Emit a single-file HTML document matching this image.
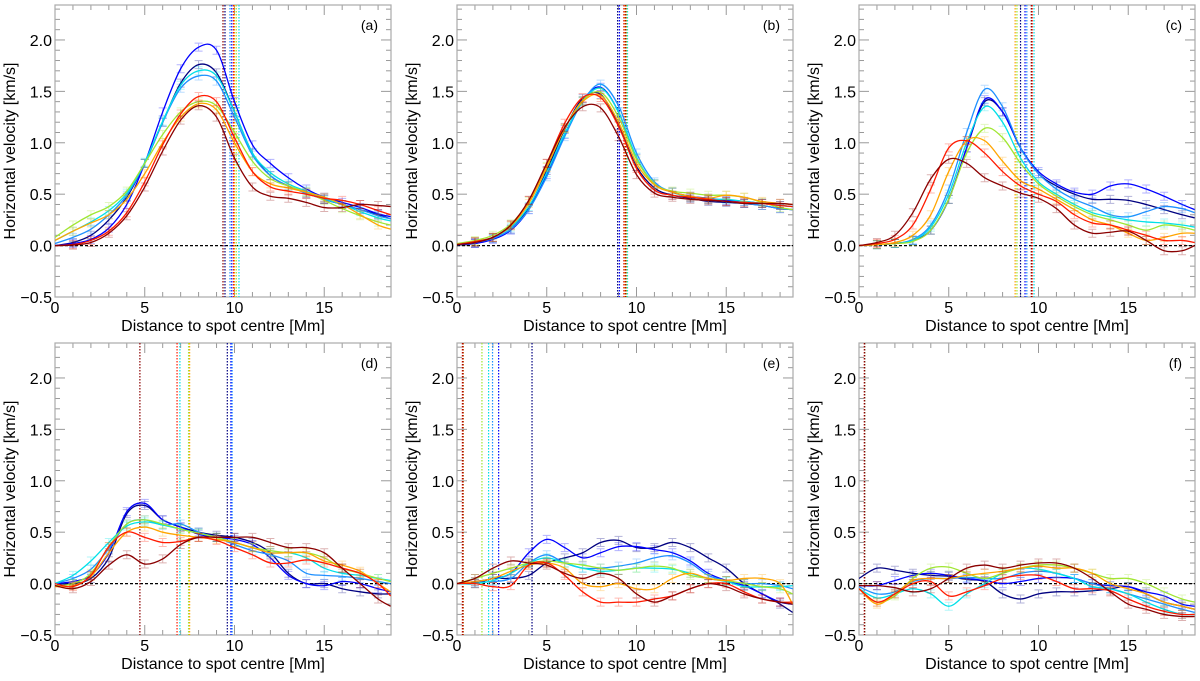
<!DOCTYPE html>
<html><head><meta charset="utf-8"><style>
html,body{margin:0;padding:0;background:#fff}
svg text{font-family:"Liberation Sans",sans-serif;fill:#000}
</style></head><body>
<svg id="fig" xmlns="http://www.w3.org/2000/svg" width="1200" height="676" viewBox="0 0 1200 676"></svg>
<script>
const xs=[0,1,2,3,4,5,6,7,8,9,10,11,12,13,14,15,16,17,18,18.7];
const colors=["#000080","#0000ff","#1e90ff","#00e0e8","#a0e632","#ffa500","#ff1a00","#8b0000"];
const seriesNames=["navy","blue","dodger","cyan","greenyellow","orange","red","darkred"];
const panelLabels=["(a)","(b)","(c)","(d)","(e)","(f)"];
const xTicks=[0,5,10,15];
const yTicks=[-0.5,0,0.5,1,1.5,2];
const yTickLabels=["\u22120.5","0.0","0.5","1.0","1.5","2.0"];
const dataA=[
[0,0.03,0.1,0.25,0.47,0.8,1.2,1.58,1.76,1.68,1.3,0.9,0.68,0.58,0.51,0.45,0.4,0.35,0.3,0.26],
[0,0.02,0.06,0.17,0.4,0.8,1.3,1.72,1.93,1.9,1.4,0.98,0.8,0.66,0.55,0.47,0.42,0.37,0.31,0.28],
[0.02,0.08,0.16,0.3,0.49,0.8,1.2,1.53,1.65,1.6,1.25,0.88,0.68,0.58,0.51,0.45,0.4,0.35,0.29,0.26],
[0.05,0.14,0.23,0.34,0.51,0.81,1.21,1.56,1.7,1.65,1.3,0.9,0.71,0.6,0.53,0.46,0.4,0.33,0.27,0.24],
[0.08,0.2,0.3,0.38,0.53,0.8,1.08,1.3,1.4,1.36,1.1,0.82,0.65,0.58,0.52,0.44,0.36,0.29,0.23,0.2],
[0.05,0.14,0.22,0.3,0.45,0.7,1.0,1.25,1.38,1.32,1.0,0.72,0.6,0.56,0.52,0.47,0.4,0.3,0.2,0.16],
[0,0.01,0.05,0.14,0.32,0.62,0.98,1.28,1.45,1.4,1.05,0.72,0.57,0.53,0.5,0.46,0.44,0.4,0.34,0.3],
[0,0.005,0.03,0.12,0.29,0.57,0.92,1.22,1.36,1.25,0.85,0.57,0.48,0.46,0.42,0.37,0.37,0.4,0.39,0.38]];
const dataB=[
[0.01,0.02,0.07,0.16,0.37,0.73,1.13,1.43,1.47,1.17,0.77,0.56,0.49,0.46,0.43,0.42,0.41,0.39,0.36,0.35],
[0.01,0.02,0.06,0.15,0.35,0.69,1.08,1.41,1.54,1.3,0.85,0.6,0.52,0.48,0.46,0.44,0.43,0.41,0.39,0.38],
[0.01,0.03,0.07,0.16,0.35,0.67,1.06,1.4,1.57,1.36,0.9,0.62,0.52,0.47,0.45,0.43,0.41,0.39,0.36,0.35],
[0.01,0.04,0.08,0.18,0.38,0.71,1.09,1.4,1.53,1.3,0.86,0.6,0.52,0.47,0.45,0.45,0.43,0.41,0.39,0.38],
[0.02,0.05,0.1,0.21,0.43,0.77,1.14,1.41,1.49,1.25,0.84,0.6,0.53,0.51,0.49,0.49,0.47,0.42,0.37,0.35],
[0.01,0.04,0.08,0.19,0.41,0.76,1.14,1.4,1.46,1.2,0.8,0.59,0.52,0.48,0.46,0.49,0.47,0.43,0.41,0.4],
[0.01,0.04,0.08,0.2,0.44,0.8,1.19,1.44,1.44,1.16,0.75,0.54,0.49,0.47,0.45,0.43,0.42,0.41,0.39,0.38],
[0.01,0.03,0.08,0.2,0.44,0.8,1.15,1.35,1.34,1.06,0.69,0.51,0.47,0.45,0.44,0.43,0.41,0.41,0.41,0.4]];
const dataC=[
[0,0.01,0.02,0.05,0.15,0.45,0.95,1.4,1.3,0.95,0.7,0.58,0.5,0.45,0.45,0.44,0.4,0.35,0.3,0.27],
[0,0.01,0.02,0.05,0.15,0.45,0.95,1.42,1.3,0.95,0.72,0.6,0.52,0.5,0.58,0.6,0.55,0.48,0.4,0.35],
[0,0.01,0.02,0.06,0.2,0.55,1.1,1.52,1.35,0.95,0.7,0.55,0.45,0.38,0.3,0.28,0.33,0.38,0.36,0.32],
[0,0.01,0.02,0.05,0.18,0.5,1.0,1.35,1.2,0.85,0.62,0.5,0.4,0.32,0.28,0.25,0.23,0.22,0.2,0.18],
[0,0.01,0.02,0.04,0.15,0.45,0.9,1.14,1.05,0.8,0.6,0.48,0.38,0.3,0.25,0.2,0.15,0.2,0.18,0.15],
[0,0.01,0.03,0.1,0.3,0.72,1.02,1.02,0.82,0.63,0.55,0.45,0.35,0.25,0.2,0.12,0.05,0.08,0.12,0.12],
[0,0.02,0.06,0.2,0.55,0.95,1.02,0.9,0.72,0.58,0.5,0.43,0.3,0.22,0.2,0.15,0.1,0.05,0.05,0.03],
[0,0.03,0.1,0.32,0.65,0.84,0.8,0.66,0.58,0.51,0.46,0.36,0.2,0.12,0.13,0.14,0.05,-0.05,-0.05,0.0]];
const dataD=[
[0,0,0.05,0.25,0.68,0.76,0.62,0.55,0.5,0.47,0.45,0.4,0.3,0.1,0,0,-0.05,-0.08,-0.1,-0.1],
[0,0.02,0.08,0.3,0.7,0.78,0.62,0.55,0.48,0.45,0.43,0.38,0.25,0.08,0,-0.02,0.02,0.0,-0.05,-0.08],
[0,0.05,0.14,0.34,0.58,0.62,0.57,0.58,0.5,0.45,0.38,0.32,0.28,0.22,0.1,0.08,0.07,0.05,0.02,0.0],
[0,0.08,0.22,0.4,0.56,0.6,0.57,0.53,0.49,0.45,0.4,0.35,0.3,0.3,0.25,0.15,0.1,0.08,0.05,0.03],
[-0.02,0.0,0.1,0.36,0.58,0.62,0.58,0.53,0.49,0.45,0.4,0.35,0.32,0.3,0.3,0.25,0.15,0.1,0.05,0.02],
[-0.03,-0.02,0.07,0.3,0.5,0.55,0.5,0.47,0.45,0.43,0.4,0.35,0.3,0.3,0.3,0.22,0.18,0.12,0.0,-0.08],
[0,-0.03,0.08,0.36,0.5,0.45,0.4,0.41,0.45,0.42,0.35,0.28,0.2,0.2,0.23,0.2,0.15,0.1,0.0,-0.12],
[-0.02,-0.05,0.02,0.18,0.28,0.19,0.24,0.38,0.45,0.45,0.45,0.45,0.4,0.35,0.35,0.3,0.15,0.0,-0.15,-0.22]];
const dataE=[
[0,0.0,0.05,0.05,0.08,0.2,0.25,0.3,0.4,0.42,0.35,0.35,0.4,0.35,0.25,0.15,0.0,-0.1,-0.2,-0.28],
[0,0.02,0.05,0.1,0.3,0.43,0.35,0.25,0.3,0.36,0.36,0.33,0.3,0.22,0.1,0.03,-0.02,-0.1,-0.18,-0.2],
[0,0.01,0.02,0.05,0.2,0.28,0.2,0.15,0.15,0.17,0.2,0.25,0.27,0.2,0.08,0.03,0.0,0.0,-0.02,-0.05],
[0,0.0,0.03,0.1,0.2,0.25,0.2,0.15,0.12,0.13,0.15,0.15,0.14,0.1,0.05,0.02,-0.03,-0.03,-0.03,-0.02],
[0,0.05,0.1,0.15,0.2,0.22,0.2,0.18,0.15,0.13,0.15,0.17,0.15,0.08,0.05,0.03,0.0,-0.03,-0.05,-0.1],
[0,0.02,0.05,0.12,0.18,0.2,0.15,0.0,-0.03,0.0,-0.05,-0.05,0.05,0.1,0.05,0.03,0.05,0.05,0.0,-0.2],
[0,0.0,-0.03,-0.02,0.18,0.2,0.08,-0.08,-0.18,-0.18,-0.18,-0.15,-0.12,-0.05,0.0,0.0,-0.08,-0.15,-0.18,-0.18],
[0,0.05,0.15,0.22,0.2,0.18,0.1,0.05,0.1,0.05,-0.1,-0.18,-0.12,-0.05,0.0,-0.03,-0.1,-0.15,-0.18,-0.2]];
const dataF=[
[0.05,0.15,0.13,0.1,0.08,0.07,0.04,0.02,-0.1,-0.15,-0.1,-0.08,-0.08,-0.07,-0.05,-0.03,-0.1,-0.18,-0.22,-0.25],
[-0.02,-0.02,0.03,0.08,0.1,0.08,0.05,0.03,0.0,0.02,0.05,0.06,0.05,0.0,-0.02,-0.03,-0.08,-0.12,-0.2,-0.22],
[-0.03,-0.1,-0.08,0.02,0.05,0.05,0.06,0.05,0.05,0.1,0.12,0.1,0.05,0.0,-0.05,-0.1,-0.15,-0.2,-0.25,-0.28],
[-0.05,-0.14,-0.1,-0.05,-0.1,-0.22,-0.1,0.0,0.1,0.15,0.14,0.1,0.05,-0.03,-0.05,-0.1,-0.18,-0.25,-0.3,-0.3],
[-0.05,-0.18,-0.12,0.05,0.15,0.16,0.1,0.05,0.1,0.15,0.18,0.18,0.15,0.1,0.05,0.05,0.0,-0.08,-0.15,-0.18],
[-0.05,-0.2,-0.1,0.03,0.05,0.05,0.08,0.1,0.12,0.15,0.17,0.15,0.15,0.1,0.0,-0.05,-0.1,-0.18,-0.22,-0.25],
[-0.05,-0.18,-0.1,0.0,0.02,-0.12,-0.08,-0.02,0.05,0.08,0.08,0.02,-0.05,-0.05,-0.07,-0.15,-0.22,-0.27,-0.3,-0.3],
[-0.02,-0.02,-0.04,-0.08,-0.05,0.05,0.15,0.18,0.15,0.18,0.2,0.2,0.15,0.05,-0.08,-0.2,-0.25,-0.3,-0.32,-0.32]];
const vlinesA=[9.47,9.85,9.75,10.25,10.1,10.0,9.95,9.36];
const vlinesB=[8.95,9.05,9.3,9.5,9.45,9.35,9.3,9.4];
const vlinesC=[9.0,9.25,9.35,9.75,8.8,8.7,9.65,9.6];
const vlinesD=[9.6,9.8,9.87,6.96,7.44,7.5,6.8,4.73];
const vlinesE=[4.18,2.32,1.98,1.76,1.39,0.35,0.3,0.33];
const vlinesF=[0.31,0.31,0.31,0.31,0.31,0.31,0.3,0.31];
const allData=[dataA,dataB,dataC,dataD,dataE,dataF];
const allV=[vlinesA,vlinesB,vlinesC,vlinesD,vlinesE,vlinesF];

const NS="http://www.w3.org/2000/svg";
const svg=document.getElementById('fig');
const lefts=[55,457,859], tops=[5,343], W=336, H=292;
const XMAX=18.72, YMIN=-0.5, YMAX=2.34;
function mk(tag,attrs,parent){const e=document.createElementNS(NS,tag);for(const k in attrs)e.setAttribute(k,attrs[k]);(parent||svg).appendChild(e);return e;}
function path(pts){let d="M"+pts[0][0].toFixed(2)+","+pts[0][1].toFixed(2);
 for(let i=0;i<pts.length-1;i++){const p0=pts[Math.max(i-1,0)],p1=pts[i],p2=pts[i+1],p3=pts[Math.min(i+2,pts.length-1)];
  const c1=[p1[0]+(p2[0]-p0[0])/6,p1[1]+(p2[1]-p0[1])/6],c2=[p2[0]-(p3[0]-p1[0])/6,p2[1]-(p3[1]-p1[1])/6];
  d+=" C"+c1[0].toFixed(2)+","+c1[1].toFixed(2)+" "+c2[0].toFixed(2)+","+c2[1].toFixed(2)+" "+p2[0].toFixed(2)+","+p2[1].toFixed(2);}
 return d;}
for(let p=0;p<6;p++){
 const L=lefts[p%3],T=tops[Math.floor(p/3)];
 const X=v=>L+v/XMAX*W, Y=v=>T+(YMAX-v)/(YMAX-YMIN)*H;
 const g=mk('g',{});
 
 
 const cid='clip'+p;
 const cp=mk('clipPath',{id:cid},g);mk('rect',{x:L,y:T,width:W,height:H},cp);
 for(let t=0;t<=18;t++){const big=t%5===0,len=big?10:5,x=X(t);
  mk('line',{x1:x,x2:x,y1:T+H,y2:T+H-len,stroke:'#999','stroke-width':1},g);
  mk('line',{x1:x,x2:x,y1:T,y2:T+len,stroke:'#999','stroke-width':1},g);}
 for(let k=-5;k<=23;k++){const v=k/10,big=k%5===0,len=big?10:5,y=Y(v);
  mk('line',{x1:L,x2:L+len,y1:y,y2:y,stroke:'#999','stroke-width':1},g);
  mk('line',{x1:L+W,x2:L+W-len,y1:y,y2:y,stroke:'#999','stroke-width':1},g);}
 const fr=mk('rect',{x:L,y:T,width:W,height:H,fill:'none',stroke:'#aaa','stroke-width':1.2},g);
 
 
 const cg=mk('g',{'clip-path':'url(#'+cid+')'},g);
 const z=mk('line',{x1:L,x2:L+W,y1:Y(0),y2:Y(0),stroke:'#000','stroke-width':1.2,'stroke-dasharray':'3,2'},cg);
 
 
 const data=allData[p],vl=allV[p];
 for(let s=0;s<8;s++){
  const vx=mk('line',{x1:X(vl[s]),x2:X(vl[s]),y1:T,y2:T+H,stroke:colors[s],'stroke-width':1.2,'stroke-dasharray':'1.5,1.5'},cg);
  
  
 }
 for(let s=0;s<8;s++){
  const pts=xs.map((x,i)=>[X(x),Y(data[s][i])]);
  for(let i=1;i<pts.length-1;i++){const [x,y]=pts[i],e=4;
   mk('path',{d:`M${x},${y-e}V${y+e}M${x-4},${y-e}h8M${x-4},${y+e}h8`,stroke:colors[s],'stroke-opacity':0.3,'stroke-width':1,fill:'none'},cg);}
  const ln=mk('path',{d:path(pts),stroke:colors[s],'stroke-width':1.3,fill:'none'},cg);
  
  
 }
 xTicks.forEach(t=>{const tx=mk('text',{x:X(t),y:T+H+16,'font-size':16,'text-anchor':'middle'},g);tx.textContent=t;
  
  });
 yTicks.forEach((t,i)=>{const tx=mk('text',{x:L-3,y:Y(t)+6,'font-size':16,'text-anchor':'end'},g);tx.textContent=yTickLabels[i];
  
  });
 const xt=mk('text',{x:L+W/2,y:T+H+34,'font-size':16,'text-anchor':'middle'},g);xt.textContent='Distance to spot centre [Mm]';
 
 
 const yc=T+H/2;
 const yt=mk('text',{x:L-40,y:yc,'font-size':16,'text-anchor':'middle',transform:`rotate(-90 ${L-40} ${yc})`},g);yt.textContent='Horizontal velocity [km/s]';
 
 
 const pl=mk('text',{x:L+W-13,y:T+25,'font-size':14,'text-anchor':'end'},g);pl.textContent=panelLabels[p];
 
 
}
</script>
</body></html>
